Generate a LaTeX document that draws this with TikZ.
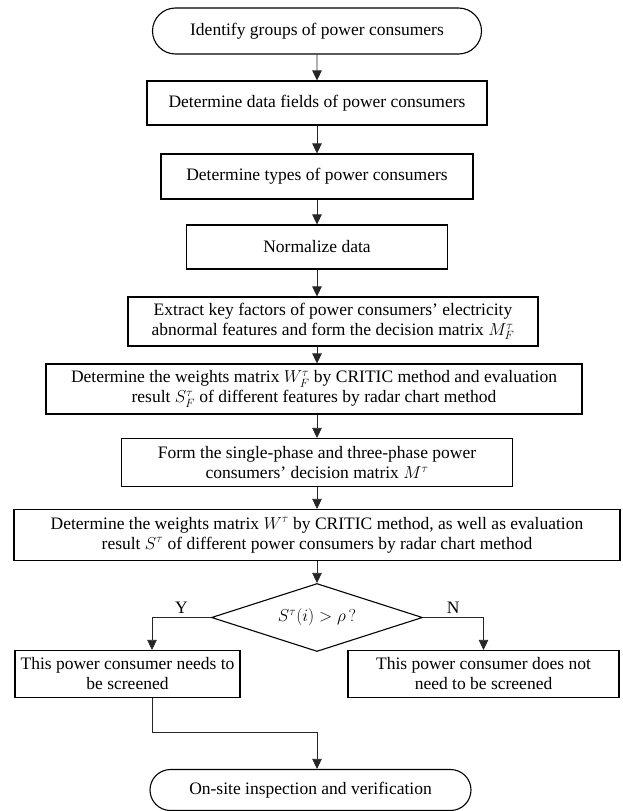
\documentclass[tikz,border=0pt]{standalone}
\usepackage{fontspec}
\setmainfont{Liberation Serif}
\usetikzlibrary{shapes.geometric, shapes.misc, arrows.meta}
\tikzstyle{startstop} = [rounded rectangle, minimum height=44pt, text centered, draw=black, line width=1.1pt, inner sep=0pt]
\tikzstyle{process} = [rectangle, minimum height=45pt, align=center, draw=black, line width=1.1pt, inner sep=2pt]
\tikzstyle{decision} = [diamond, shape aspect=3, minimum width=211pt, minimum height=68pt, draw=black, line width=1.1pt, inner sep=0pt]
\tikzstyle{arrow} = [line width=0.7pt, black!85, ->, >={Triangle[length=10pt, width=9.5pt]}]

\begin{document}
\begin{tikzpicture}[node distance=72pt, font=\fontsize{17.5pt}{20pt}\selectfont]
\useasboundingbox (0,0) rectangle (622pt,-811pt);

%Main column
\node (start) [startstop, minimum width=329pt, minimum height=46pt] at (317pt,-31pt) {Identify groups of power consumers};
\node (fields) [process, minimum width=340pt, minimum height=44pt, below of=start] {Determine data fields of power consumers};
\node (types) [process, minimum width=312pt, below of=fields, yshift=-1.5pt] {Determine types of power consumers};
\node (norm) [process, minimum width=261pt, minimum height=44pt, below of=types, yshift=1.5pt] {Normalize data};
\node (extract) [process, minimum width=410pt, minimum height=49pt, below of=norm, xshift=16pt, yshift=-2.5pt] {Extract key factors of power consumers' electricity\\ abnormal features and form the decision matrix $M_F^{\tau}$};
\node (weightF) [process, minimum width=536pt, minimum height=50pt, below of=extract, xshift=-19pt, yshift=4.5pt] {Determine the weights matrix $W_F^{\tau}$ by CRITIC method and evaluation\\ result $S_F^{\tau}$ of different features by radar chart method};
\node (form) [process, minimum width=391pt, minimum height=48pt, below of=weightF, xshift=3pt, yshift=-1.5pt] {Form the single-phase and three-phase power\\ consumers' decision matrix $M^{\tau}$};
\node (weight) [process, minimum width=606pt, minimum height=51pt, below of=form, yshift=-0.5pt] {Determine the weights matrix $W^{\tau}$ by CRITIC method, as well as evaluation\\ result $S^{\tau}$ of different power consumers by radar chart method};
%Decision
\node (decide) [decision, below of=weight, yshift=-10.5pt] {$S^{\tau}(i) > \rho\,?$};
\node (yes) [process, minimum width=225pt, minimum height=47pt, below of=decide, xshift=-189.5pt, yshift=15.5pt] {This power consumer needs to\\ be screened};
\node (no) [process, minimum width=271pt, minimum height=47pt, below of=decide, xshift=166.5pt, yshift=15.5pt] {This power consumer does not\\ need to be screened};
%End
\node (end) [startstop, minimum width=321pt, minimum height=41pt, below of=yes, xshift=183pt, yshift=-44pt] {On-site inspection and verification};

%arrows
\draw [arrow] (start) -- (fields);
\draw [arrow] (fields) -- (types);
\draw [arrow] (types) -- (norm);
\draw [arrow] (norm) -- (norm |- extract.north);
\draw [arrow] (extract.south -| form) -- (weightF.north -| form);
\draw [arrow] (weightF.south -| form) -- (form);
\draw [arrow] (form) -- (weight);
\draw [arrow] (weight) -- (decide);
\draw [arrow] (decide.west) -| node[pos=0.25, above, text=black] {Y} ([xshift=24.5pt]yes.north);
\draw [arrow] (decide.east) -| node[pos=0.25, above, text=black] {N} (no.north);
\draw [arrow] ([xshift=24.5pt]yes.south) -- ++(0,-34pt) -| ([xshift=6.5pt]end.north);

\end{tikzpicture}
\end{document}
